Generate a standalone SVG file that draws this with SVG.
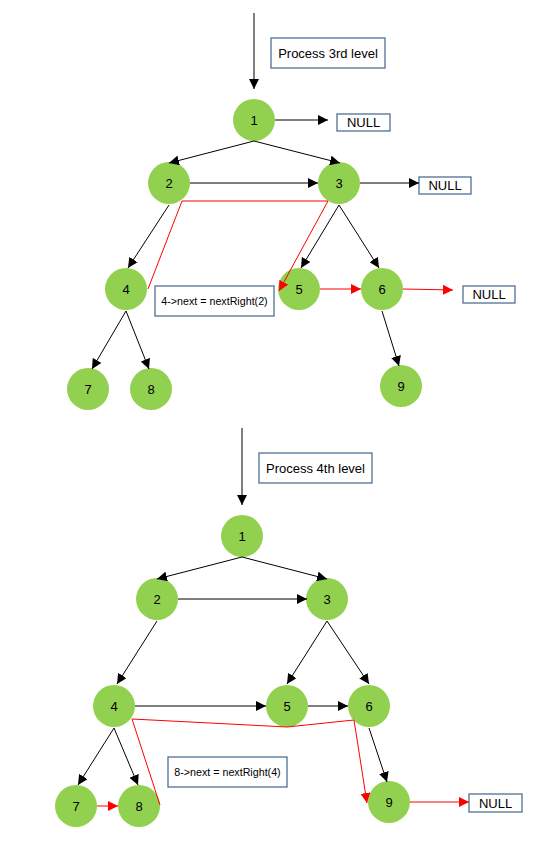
<svg xmlns="http://www.w3.org/2000/svg" width="540" height="853" viewBox="0 0 540 853">
<defs>
<marker id="ab" viewBox="0 0 10 10" refX="10" refY="5" markerWidth="10" markerHeight="10" markerUnits="userSpaceOnUse" orient="auto"><path d="M0,0 L10,5 L0,10 z" fill="#000"/></marker>
<marker id="ar" viewBox="0 0 10 10" refX="10" refY="5" markerWidth="10" markerHeight="10" markerUnits="userSpaceOnUse" orient="auto"><path d="M0,0 L10,5 L0,10 z" fill="#f00"/></marker>
<style>
.n circle{fill:#92D050;}
.n text,.b text{font-family:"Liberation Sans",Arial,sans-serif;font-size:13px;fill:#000;text-anchor:middle;}
.b rect{fill:#fff;stroke:#4F6F95;stroke-width:1.3;}
.b text.s{font-size:10.7px;}
.k{stroke:#000;stroke-width:1;fill:none;marker-end:url(#ab);}
.r{stroke:#f00;stroke-width:1;fill:none;marker-end:url(#ar);}
.rl{stroke:#f00;stroke-width:1;fill:none;}
</style>
</defs>
<rect width="540" height="853" fill="#fff"/>
<g id="top-label" class="b"><rect x="271" y="38" width="114" height="30"/><text x="328" y="57.5">Process 3rd level</text></g>
<g id="top-null1" class="b"><rect x="337" y="114" width="53" height="17"/><text x="363.5" y="127">NULL</text></g>
<g id="top-null2" class="b"><rect x="419" y="177" width="52" height="17"/><text x="445" y="190">NULL</text></g>
<g id="top-null3" class="b"><rect x="463" y="286" width="52" height="17"/><text x="489" y="299">NULL</text></g>
<g id="top-note" class="b"><rect x="155" y="286" width="119" height="30"/><text class="s" x="214.5" y="304.5">4-&gt;next = nextRight(2)</text></g>
<g id="top-n1" class="n"><circle cx="254" cy="120" r="21"/><text x="254" y="124.5">1</text></g>
<g id="top-n2" class="n"><circle cx="169" cy="183" r="21"/><text x="169" y="187.5">2</text></g>
<g id="top-n3" class="n"><circle cx="339" cy="183" r="21"/><text x="339" y="187.5">3</text></g>
<g id="top-n4" class="n"><circle cx="126" cy="289" r="21"/><text x="126" y="293.5">4</text></g>
<g id="top-n5" class="n"><circle cx="299" cy="289" r="21"/><text x="299" y="293.5">5</text></g>
<g id="top-n6" class="n"><circle cx="382" cy="289" r="21"/><text x="382" y="293.5">6</text></g>
<g id="top-n7" class="n"><circle cx="88" cy="389" r="21"/><text x="88" y="393.5">7</text></g>
<g id="top-n8" class="n"><circle cx="151" cy="389" r="21"/><text x="151" y="393.5">8</text></g>
<g id="top-n9" class="n"><circle cx="401" cy="386" r="21"/><text x="401" y="390.5">9</text></g>
<g id="bot-label" class="b"><rect x="259" y="453" width="113" height="30"/><text x="315.5" y="472.5">Process 4th level</text></g>
<g id="bot-note" class="b"><rect x="168" y="757" width="119" height="30"/><text class="s" x="227.5" y="775.5">8-&gt;next = nextRight(4)</text></g>
<g id="bot-null" class="b"><rect x="469" y="794" width="53" height="18"/><text x="495.5" y="807.5">NULL</text></g>
<g id="bot-n1" class="n"><circle cx="242" cy="536" r="21"/><text x="242" y="540.5">1</text></g>
<g id="bot-n2" class="n"><circle cx="157" cy="599" r="21"/><text x="157" y="603.5">2</text></g>
<g id="bot-n3" class="n"><circle cx="327" cy="599" r="21"/><text x="327" y="603.5">3</text></g>
<g id="bot-n4" class="n"><circle cx="114" cy="706" r="21"/><text x="114" y="710.5">4</text></g>
<g id="bot-n5" class="n"><circle cx="287" cy="706" r="21"/><text x="287" y="710.5">5</text></g>
<g id="bot-n6" class="n"><circle cx="369" cy="706" r="21"/><text x="369" y="710.5">6</text></g>
<g id="bot-n7" class="n"><circle cx="76" cy="806" r="21"/><text x="76" y="810.5">7</text></g>
<g id="bot-n8" class="n"><circle cx="139" cy="806" r="21"/><text x="139" y="810.5">8</text></g>
<g id="bot-n9" class="n"><circle cx="389" cy="802" r="21"/><text x="389" y="806.5">9</text></g>
<g id="connectors">
<line class="k" x1="254" y1="13" x2="254" y2="89"/>
<line class="k" x1="275" y1="120" x2="328" y2="120"/>
<line class="k" x1="254" y1="141" x2="169" y2="163"/>
<line class="k" x1="254" y1="141" x2="340" y2="163"/>
<line class="k" x1="190" y1="183" x2="318" y2="183"/>
<line class="k" x1="360" y1="183" x2="419" y2="183"/>
<line class="k" x1="169" y1="205" x2="128" y2="268"/>
<line class="k" x1="339" y1="205" x2="301" y2="268"/>
<line class="k" x1="339" y1="205" x2="379" y2="268"/>
<line class="k" x1="126" y1="311" x2="92" y2="369"/>
<line class="k" x1="126" y1="311" x2="149" y2="369"/>
<line class="k" x1="382" y1="311" x2="399" y2="366"/>
<polyline class="rl" points="148,289 182,201 328,201"/>
<line class="r" x1="328" y1="201" x2="279" y2="291"/>
<line class="r" x1="320" y1="289" x2="361" y2="289"/>
<line class="r" x1="403" y1="289" x2="453" y2="290"/>
<line class="k" x1="242" y1="428" x2="242" y2="505"/>
<line class="k" x1="242" y1="557" x2="157" y2="579"/>
<line class="k" x1="242" y1="557" x2="327" y2="579"/>
<line class="k" x1="178" y1="599" x2="307" y2="599"/>
<line class="k" x1="157" y1="621" x2="117" y2="684"/>
<line class="k" x1="327" y1="621" x2="287" y2="684"/>
<line class="k" x1="327" y1="621" x2="369" y2="684"/>
<line class="k" x1="135" y1="706" x2="266" y2="706"/>
<line class="k" x1="308" y1="706" x2="348" y2="706"/>
<line class="k" x1="114" y1="728" x2="78" y2="785"/>
<line class="k" x1="114" y1="728" x2="138" y2="785"/>
<line class="k" x1="369" y1="728" x2="387" y2="782"/>
<polyline class="rl" points="160,805 132,719 287,727 354,720"/>
<line class="r" x1="354" y1="720" x2="367" y2="803"/>
<line class="r" x1="97" y1="806" x2="118" y2="806"/>
<line class="r" x1="410" y1="802" x2="469" y2="802"/>
</g>
</svg>
